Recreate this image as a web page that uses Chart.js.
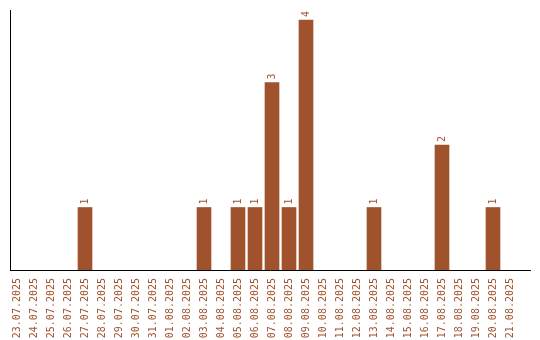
<!DOCTYPE html>
<html>
<head>
<meta charset="utf-8">
<script src="https://cdn.jsdelivr.net/npm/chart.js@4"></script>
<style>
  html, body { margin: 0; padding: 0; background: #fff; }
  #wrap { width: 540px; height: 340px; }
</style>
</head>
<body>
<div id="wrap"><canvas id="chart"></canvas></div>
<script>
var dates = [
  "23.07.2025", "24.07.2025", "25.07.2025", "26.07.2025", "27.07.2025",
  "28.07.2025", "29.07.2025", "30.07.2025", "31.07.2025", "01.08.2025",
  "02.08.2025", "03.08.2025", "04.08.2025", "05.08.2025", "06.08.2025",
  "07.08.2025", "08.08.2025", "09.08.2025", "10.08.2025", "11.08.2025",
  "12.08.2025", "13.08.2025", "14.08.2025", "15.08.2025", "16.08.2025",
  "17.08.2025", "18.08.2025", "19.08.2025", "20.08.2025", "21.08.2025"
];
var counts = [
  0, 0, 0, 0, 1,
  0, 0, 0, 0, 0,
  0, 1, 0, 1, 1,
  3, 1, 4, 0, 0,
  0, 1, 0, 0, 0,
  2, 0, 0, 1, 0
];

var brown = "#A0522D";
var font = { family: "'DejaVu Sans Mono', monospace", size: 10 };

// numbers on top of the bars, turned like the date labels
var valueLabels = {
  id: 'valueLabels',
  afterDatasetsDraw: function(chart) {
    var ctx = chart.ctx;
    var meta = chart.getDatasetMeta(0);
    ctx.save();
    ctx.font = font.size + "px " + font.family;
    ctx.fillStyle = brown;
    ctx.textAlign = 'left';
    ctx.textBaseline = 'middle';
    meta.data.forEach(function(bar, i) {
      if (!counts[i]) return;
      ctx.save();
      ctx.translate(bar.x, bar.y - 3);
      ctx.rotate(-Math.PI / 2);
      ctx.fillText(String(counts[i]), 0, 0);
      ctx.restore();
    });
    ctx.restore();
  }
};

var ctx = document.getElementById("chart").getContext("2d");
var chart = new Chart(ctx, {
  type: 'bar',
  data: {
    datasets: [{
      data: counts.map(function(c, i) { return { x: i, y: c || null }; }),
      backgroundColor: brown,
      borderWidth: 0,
      barThickness: 14
    }]
  },
  options: {
    responsive: true,
    maintainAspectRatio: false,
    animation: false,
    layout: { padding: { left: 10, right: 10, top: 10, bottom: 0 } },
    plugins: {
      legend: { display: false },
      tooltip: { enabled: false }
    },
    scales: {
      x: {
        type: 'linear',
        offset: false,
        min: -0.4118,
        max: 30.177,
        grid: { display: false, offset: false },
        border: { display: true, color: '#000', width: 1 },
        ticks: {
          stepSize: 1,
          includeBounds: false,
          autoSkip: false,
          maxTicksLimit: 100,
          minRotation: 90,
          maxRotation: 90,
          padding: 0,
          color: brown,
          font: font,
          callback: function(value) {
            return dates[value] !== undefined ? dates[value] : '';
          }
        },
        afterFit: function(scale) { scale.height = 70; }
      },
      y: {
        min: 0,
        max: 4.16,
        grid: { display: false },
        border: { display: true, color: '#000', width: 1 },
        ticks: { display: false },
        afterFit: function(scale) { scale.width = 0; }
      }
    }
  },
  plugins: [valueLabels]
});
</script>
</body>
</html>
